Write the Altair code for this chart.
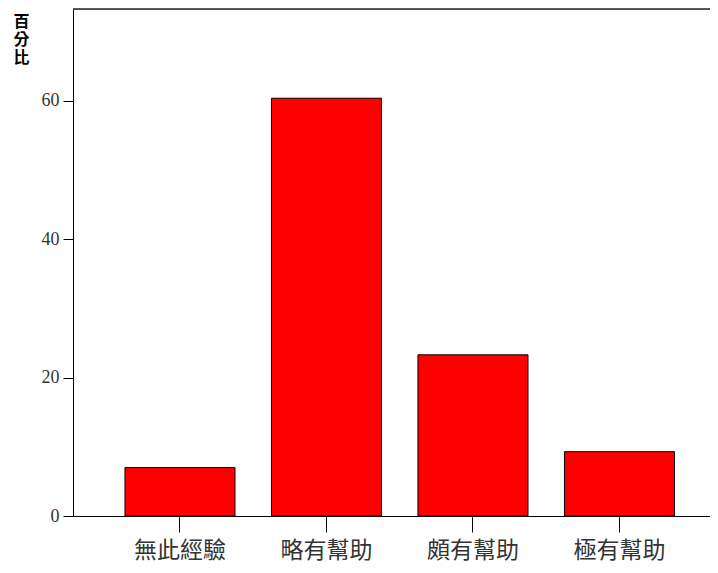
import altair as alt
import pandas as pd

categories = ["無此經驗", "略有幫助", "頗有幫助", "極有幫助"]
percents = [7.0, 60.4, 23.3, 9.3]
y_ticks = [0, 20, 40, 60]
y_title = ["百", "分", "比"]

df = pd.DataFrame({"cat": categories, "pct": percents})

W, H = 637, 507
PAD_L, PAD_T, PAD_B = 65, 1, 49

bars = alt.Chart(df).mark_bar(color="#FF0000", stroke="black", strokeWidth=1).encode(
    x=alt.X(
        "cat:N",
        sort=categories,
        scale=alt.Scale(paddingInner=0.249, paddingOuter=0.2986, align=0.594),
        axis=alt.Axis(
            title=None, labelAngle=0, tickSize=16, labelPadding=7,
            labelFont="Noto Sans CJK TC", labelFontSize=23, labelColor="#333333",
            labelBaseline="top",
            domainColor="black", tickColor="black", domainWidth=1, tickWidth=1,
        ),
    ),
    y=alt.Y(
        "pct:Q",
        scale=alt.Scale(domain=[0, 73.3], nice=False, zero=True),
        axis=alt.Axis(
            values=y_ticks, grid=False, tickSize=10, labelPadding=4,
            labelFont="Liberation Serif", labelFontSize=18, labelColor="#333333",
            domainColor="black", tickColor="black", domainWidth=1, tickWidth=1,
            title=y_title, titleAngle=0, titleX=-52, titleY=4,
            titleAlign="center", titleBaseline="top", titleLineHeight=18,
            titleFont="Noto Sans CJK TC", titleFontSize=16, titleFontWeight="bold",
            titleColor="black",
        ),
    ),
)

top = alt.Chart(pd.DataFrame({"a": [0]})).mark_rule(color="#222222", strokeWidth=1.5).encode(
    y=alt.value(0), x=alt.value(0), x2=alt.value(W)
)

chart = alt.layer(bars, top).properties(
    width=W, height=H,
    autosize=alt.AutoSizeParams(type="none"),
    padding={"left": PAD_L, "top": PAD_T, "right": 0, "bottom": PAD_B},
).configure_view(stroke=None).configure(background="white")

chart.save("out.html", embed_options={"renderer": "svg", "actions": False})
